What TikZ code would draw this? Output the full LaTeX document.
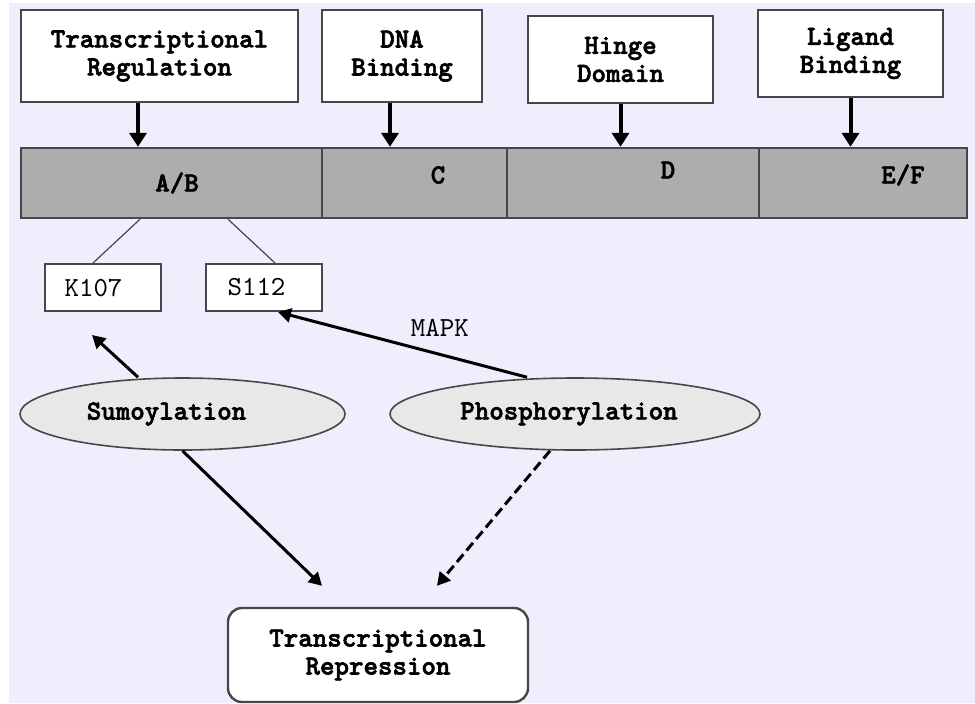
\documentclass[tikz,border=0pt]{standalone}
\usepackage{fontspec}
\setmonofont{lmmono10-regular.otf}[BoldFont=lmmonolt10-bold.otf, BoldFeatures={FakeBold=2.2}]
\usetikzlibrary{arrows.meta,shapes.geometric}

\definecolor{lavender}{HTML}{EEEEFC}
\definecolor{bargray}{HTML}{ADADAD}
\definecolor{ovalgray}{HTML}{E8E8E8}
\definecolor{edgegray}{HTML}{474747}

\tikzset{
	boldtext/.style={font=\ttfamily\bfseries\fontsize{13.8}{14}\selectfont, align=center},
	plaintext/.style={font=\ttfamily\fontsize{13.8}{14}\selectfont},
	topbox/.style={boldtext, draw=edgegray, line width=1.2pt, fill=white, inner sep=0pt},
	segbox/.style={draw=edgegray, line width=1.2pt, fill=bargray, inner sep=0pt, minimum height=35pt},
	sitebox/.style={plaintext, draw=edgegray, line width=1pt, fill=white, inner sep=0pt, minimum width=58pt, minimum height=23.5pt},
	oval/.style={ellipse, boldtext, draw=edgegray, line width=0.8pt, fill=ovalgray, inner sep=0pt, minimum height=36pt},
	downarr/.style={-{Triangle[width=8.5pt,length=7pt]}, line width=2pt},
	arr/.style={-{Triangle[width=7pt,length=6.5pt]}, line width=1.5pt}
}

\begin{document}
\begin{tikzpicture}[x=0.5pt, y=-0.5pt]

\useasboundingbox (0, 0) rectangle (975, 703);
\fill[white] (0, 0) rectangle (975, 703);
\fill[lavender] (9, 3) rectangle (975, 703);

\node[topbox, minimum width=138.5pt, minimum height=46pt] (treg) at (159.5, 56) {Transcriptional\\Regulation};
\node[topbox, minimum width=80pt, minimum height=46pt] (dna) at (402, 56) {DNA\\Binding};
\node[topbox, minimum width=92.5pt, minimum height=43.5pt] (hinge) at (620.5, 59.5) {Hinge\\Domain};
\node[topbox, minimum width=92.5pt, minimum height=43.5pt] (ligand) at (850.5, 53.5) {Ligand\\Binding};

\foreach \n/\x/\w in {ab/171.5/150.5pt, c/414.5/92.5pt, d/633/126pt, ef/863/104pt}
	\node[segbox, minimum width=\w] (\n) at (\x, 183) {};

\foreach \n/\x/\y/\t in {abtext/177/183/{A/B}, ctext/438/175/C, dtext/668/170/D, eftext/903/175/{E/F}}
	\node[boldtext] (\n) at (\x, \y) {\t};

\draw[downarr] ([xshift=-10.75pt]treg.south) -- ([xshift=-10.75pt]treg.south |- ab.north);
\draw[downarr] ([xshift=-6pt]dna.south) -- ([xshift=-6pt]dna.south |- c.north);
\draw[downarr] (hinge.south) -- (hinge.south |- d.north);
\draw[downarr] (ligand.south) -- (ligand.south |- ef.north);

\node[sitebox] (k107) at (102.5, 287.5) {\hspace*{-9pt}K107};
\node[sitebox] (s112) at (263.5, 287.5) {\hspace*{-7pt}S112};

\draw[edgegray, line width=0.6pt] ([xshift=-15.75pt]ab.south) -- ([xshift=-4.75pt]k107.north);
\draw[edgegray, line width=0.6pt] ([xshift=28.25pt]ab.south) -- ([xshift=5.75pt]s112.north);

\node[oval, minimum width=162.5pt] (sumo) at (182.5, 414) {\hspace*{-16pt}Sumoylation};
\node[oval, minimum width=185pt] (phos) at (575, 414) {\hspace*{-6pt}Phosphorylation};

\node[topbox, rounded corners=7pt, minimum width=150pt, minimum height=47pt] (repr) at (378, 655) {Transcriptional\\Repression};

\draw[arr] ([xshift=-22.25pt]sumo.north) -- ([xshift=-5.25pt, yshift=-11.5pt]k107.south);
\draw[arr] ([xshift=-24pt]phos.north) -- node[plaintext, pos=0.35, above=5pt] (mapk) {MAPK} ([xshift=7.25pt]s112.south);
\draw[arr] (sumo.south) -- ([xshift=-28pt, yshift=10.5pt]repr.north);
\draw[arr, dash pattern=on 5pt off 2.5pt] ([xshift=-12.5pt]phos.south) -- ([xshift=29.5pt, yshift=10.5pt]repr.north);

\end{tikzpicture}
\end{document}
